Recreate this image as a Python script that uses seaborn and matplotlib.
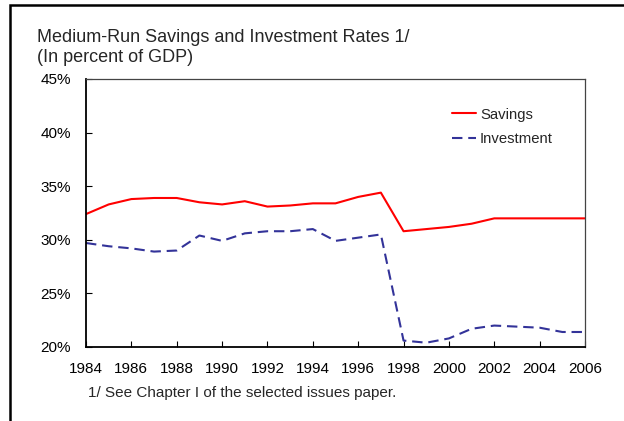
import matplotlib
matplotlib.use("Agg")
import matplotlib.pyplot as plt
import matplotlib.patches as mpatches
import seaborn as sns
import pandas as pd

years = list(range(1984, 2007))
savings = [32.4, 33.3, 33.8, 33.9, 33.9, 33.5, 33.3, 33.6, 33.1, 33.2, 33.4, 33.4,
           34.0, 34.4, 30.8, 31.0, 31.2, 31.5, 32.0, 32.0, 32.0, 32.0, 32.0]
investment = [29.7, 29.4, 29.2, 28.9, 29.0, 30.4, 29.9, 30.6, 30.8, 30.8, 31.0, 29.9,
              30.2, 30.5, 20.6, 20.4, 20.8, 21.7, 22.0, 21.9, 21.8, 21.4, 21.4]
x_ticks = list(range(1984, 2007, 2))
y_ticks = [20, 25, 30, 35, 40, 45]

sns.set_theme(style="white")
plt.rcParams["font.family"] = ["Liberation Sans", "DejaVu Sans"]

df = pd.DataFrame({"Year": years, "Savings": savings, "Investment": investment})

fig = plt.figure(figsize=(6.24, 4.21), dpi=100)
ax = fig.add_axes([86 / 624, 1 - 347 / 421, (585 - 86) / 624, (347 - 79) / 421])

sns.lineplot(data=df, x="Year", y="Savings", ax=ax, color="#FF0000",
             linewidth=1.5, label="Savings")
sns.lineplot(data=df, x="Year", y="Investment", ax=ax, color="#333399",
             linewidth=1.5, linestyle=(0, (5, 2.8)), label="Investment")

ax.set_xlim(1984, 2006)
ax.set_ylim(20, 45)
ax.set_xticks(x_ticks)
ax.set_xticklabels([str(t) for t in x_ticks], fontsize=11)
ax.set_yticks(y_ticks)
ax.set_yticklabels([f"{t}%" for t in y_ticks], fontsize=11)
ax.set_xlabel("")
ax.set_ylabel("")
ax.tick_params(axis="both", direction="in", length=4, width=0.8, colors="black",
               labelcolor="black")
ax.tick_params(axis="x", pad=11)
ax.tick_params(axis="y", pad=11)
ax.yaxis.set_tick_params(which="both", left=True)
ax.xaxis.set_tick_params(which="both", bottom=True)

for side in ["left", "bottom"]:
    ax.spines[side].set_color("black")
    ax.spines[side].set_linewidth(1.3)
for side in ["top", "right"]:
    ax.spines[side].set_color("#444444")
    ax.spines[side].set_linewidth(0.9)

leg = ax.legend(loc="upper left", bbox_to_anchor=(0.733, 0.893), frameon=False,
                fontsize=10.7, handlelength=1.6, handletextpad=0.3, labelspacing=0.7,
                borderaxespad=0, borderpad=0)

fig.text(37 / 624, 1 - 37.5 / 421, "Medium-Run Savings and Investment Rates 1/",
         fontsize=13, va="center", ha="left")
fig.text(37 / 624, 1 - 58 / 421, "(In percent of GDP)",
         fontsize=13, va="center", ha="left")
fig.text(88 / 624, 1 - 393 / 421, "1/ See Chapter I of the selected issues paper.",
         fontsize=11, va="center", ha="left")

# outer frame, open towards the right and bottom edges
frame = mpatches.Rectangle((10 / 624, -0.1), 1.2, 1.1 - 5 / 421,
                           transform=fig.transFigure, fill=False,
                           edgecolor="black", linewidth=1.8, clip_on=False)
fig.patches.append(frame)

fig.savefig("out.png", dpi=100)
